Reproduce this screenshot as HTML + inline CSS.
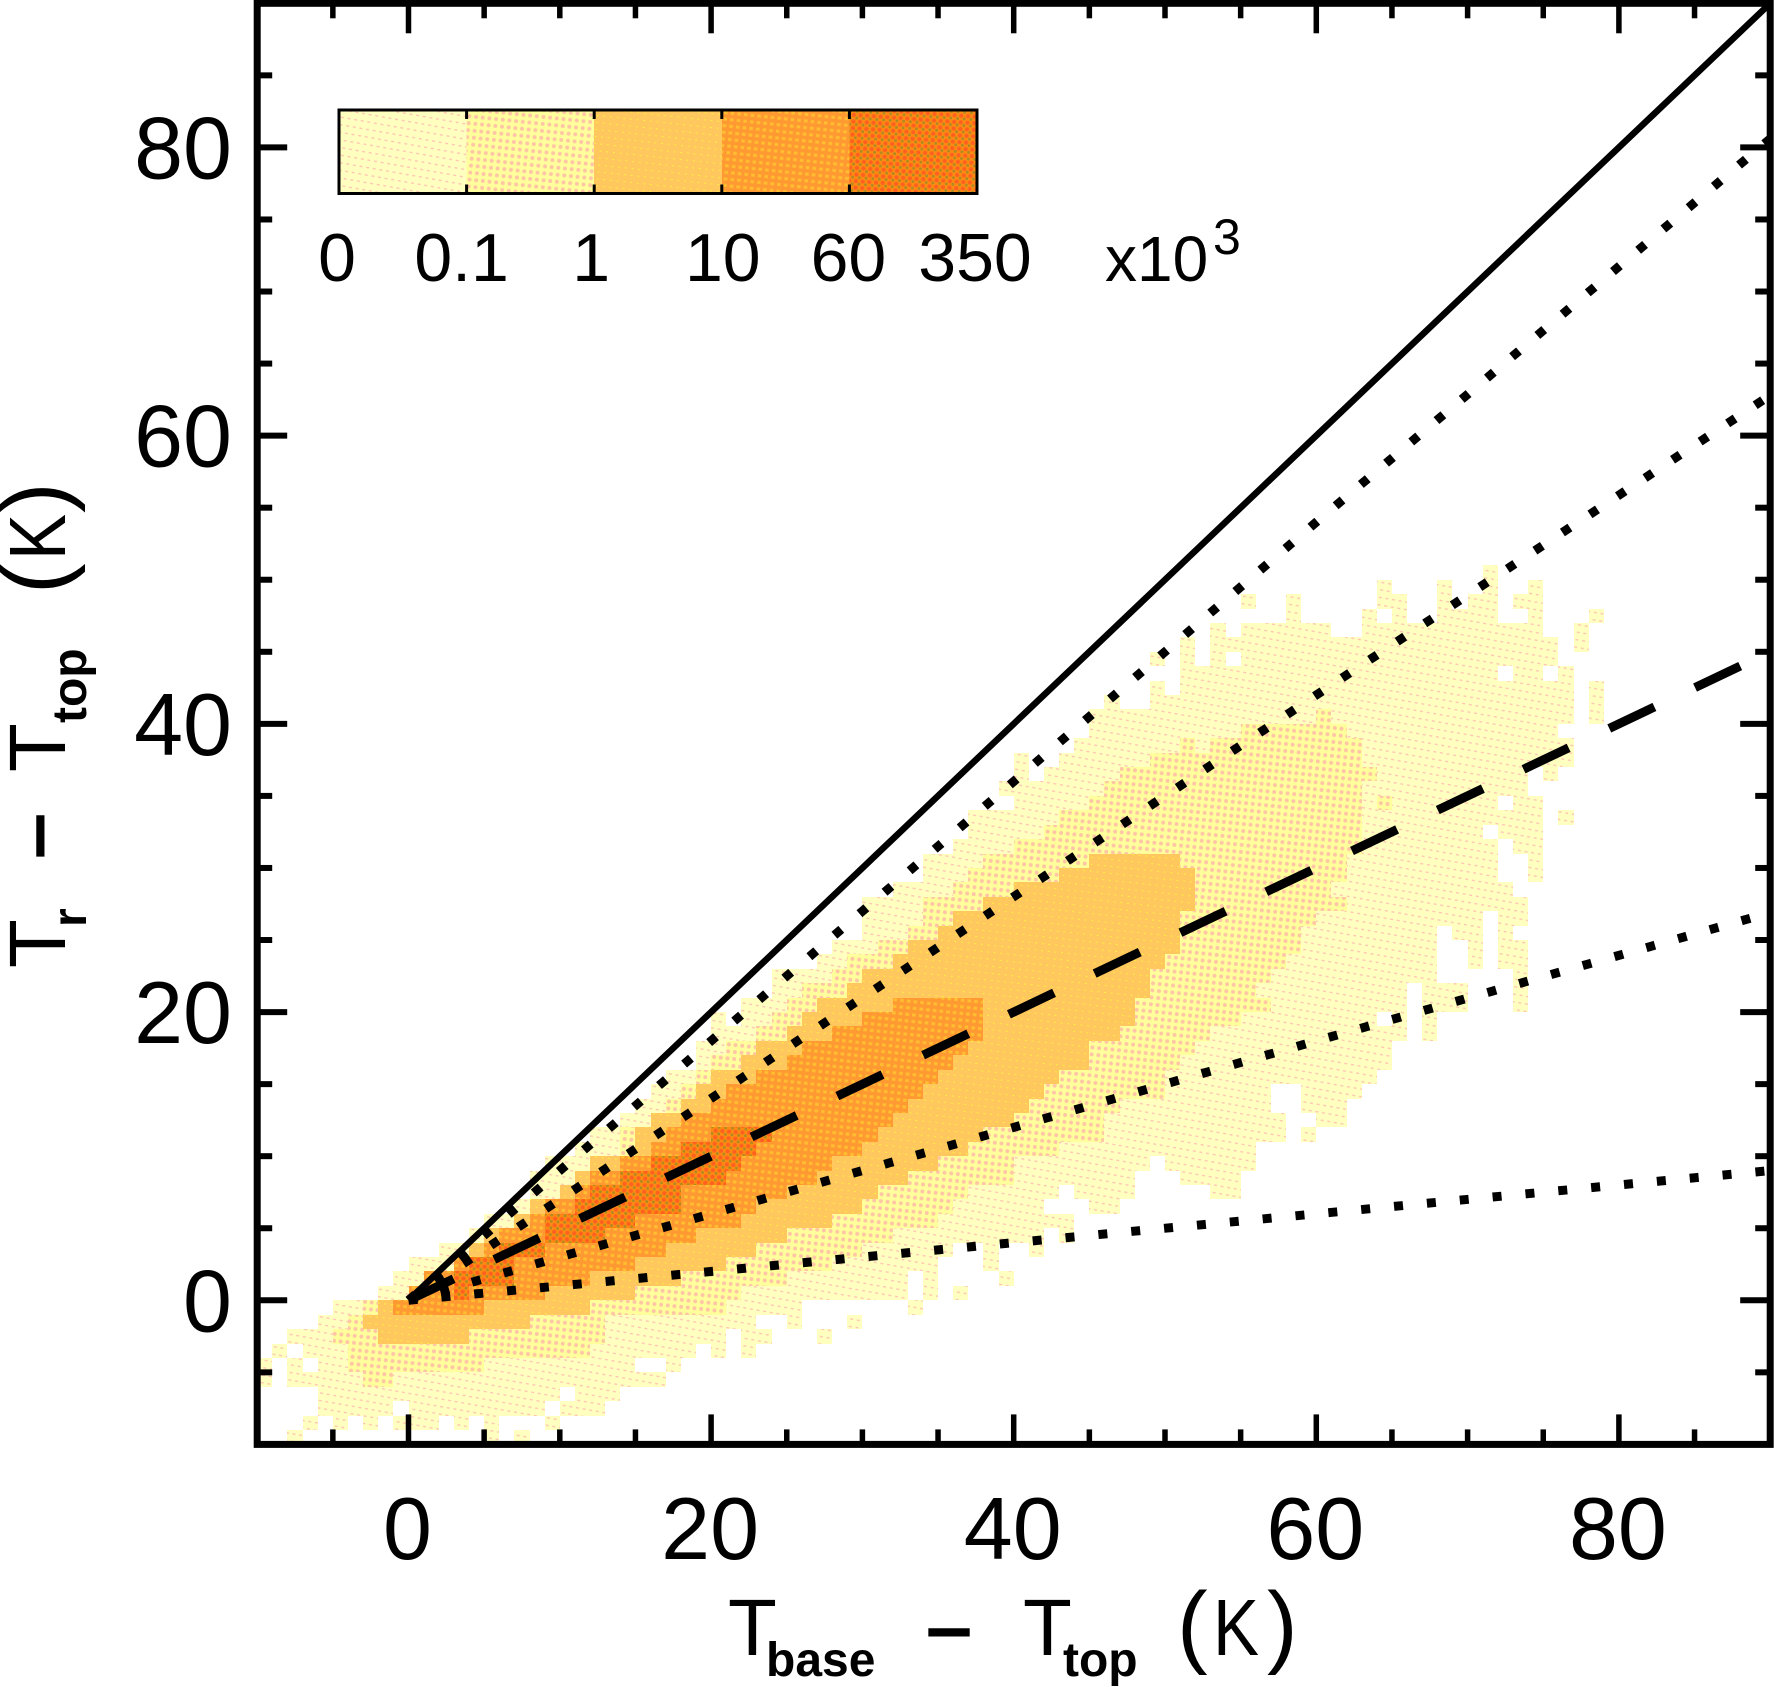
<!DOCTYPE html>
<html lang="en">
<head>
<meta charset="utf-8">
<title>Tr - Ttop versus Tbase - Ttop</title>
<style>
  html, body { margin: 0; padding: 0; background: #fff; }
  body { width: 1774px; height: 1687px; overflow: hidden; }
  svg { display: block; }
  text { font-family: "Liberation Sans", sans-serif; fill: #000; }
</style>
</head>
<body>
<svg id="chart" xmlns="http://www.w3.org/2000/svg" width="1774" height="1687" viewBox="0 0 1774 1687">
  <defs>
    <pattern id="lv1" patternUnits="userSpaceOnUse" width="6.7" height="7.5" patternTransform="rotate(10)">
      <rect width="6.7" height="7.5" fill="#FFFFC0"/>
      <rect x="1" y="3" width="3" height="1.4" fill="#FFC6B4"/>
    </pattern>
    <pattern id="lv2" patternUnits="userSpaceOnUse" width="6.7" height="7" patternTransform="rotate(6)">
      <rect width="6.7" height="7" fill="#FFFF9C"/>
      <circle cx="3.3" cy="3.5" r="2" fill="#FFC6A6"/>
    </pattern>
    <pattern id="lv3" patternUnits="userSpaceOnUse" width="6.7" height="7" patternTransform="rotate(6)">
      <rect width="6.7" height="7" fill="#FFC85E"/>
      <rect x="2.5" y="3" width="1.8" height="1" fill="#FFF040"/>
    </pattern>
    <pattern id="lv4" patternUnits="userSpaceOnUse" width="6.7" height="6.6" patternTransform="rotate(6)">
      <rect width="6.7" height="6.6" fill="#FF9A33"/>
      <rect x="1.5" y="1.6" width="3.6" height="3" fill="#FFBE30"/>
    </pattern>
    <pattern id="lv5" patternUnits="userSpaceOnUse" width="6.7" height="6.6" patternTransform="rotate(4)">
      <rect width="6.7" height="6.6" fill="#FF8A12"/>
      <circle cx="2.2" cy="2.2" r="2.1" fill="#FF6020"/>
      <circle cx="5.4" cy="5.2" r="1.5" fill="#B08A20"/>
    </pattern>
  </defs>

  <g id="heatmap"></g>
  <g id="guides"></g>
  <g id="axes"></g>

  <g id="colorbar"></g>

  <g>
    <text x="728" y="1655" font-size="80">T</text>
    <text x="766" y="1676" font-size="48" font-weight="bold">base</text>
    <text x="949" y="1659" font-size="80" text-anchor="middle" stroke="#000" stroke-width="2.5">−</text>
    <text x="1023" y="1655" font-size="80">T</text>
    <text x="1063" y="1676" font-size="48" font-weight="bold">top</text>
    <text x="1177" y="1656" font-size="92">(</text>
    <text x="1213" y="1655" font-size="80" textLength="46" lengthAdjust="spacingAndGlyphs">K</text>
    <text x="1267" y="1656" font-size="92">)</text>
  </g>

  <g>
    <text transform="translate(65,968) rotate(-90)" font-size="80">T</text>
    <text transform="translate(86,927) rotate(-90)" font-size="48" font-weight="bold">r</text>
    <text transform="translate(67,836) rotate(-90)" font-size="80" text-anchor="middle" stroke="#000" stroke-width="2.5">−</text>
    <text transform="translate(65,772) rotate(-90)" font-size="80">T</text>
    <text transform="translate(86,723) rotate(-90)" font-size="48" font-weight="bold">top</text>
    <text transform="translate(66,594) rotate(-90)" font-size="92">(</text>
    <text transform="translate(65,560) rotate(-90)" font-size="80" textLength="46" lengthAdjust="spacingAndGlyphs">K</text>
    <text transform="translate(66,513) rotate(-90)" font-size="92">)</text>
  </g>
</svg>

<script>
// Axis ranges
const xDomain = [-10, 90];
const yDomain = [-10, 90];

// Tick values
const xMajorTicks = [0, 20, 40, 60, 80];
const yMajorTicks = [0, 20, 40, 60, 80];
const xMinorTicks = [-5, 5, 10, 15, 25, 30, 35, 45, 50, 55, 65, 70, 75, 85];
const yMinorTicks = [-5, 5, 10, 15, 25, 30, 35, 45, 50, 55, 65, 70, 75, 85];
const xTickLabels = ["0", "20", "40", "60", "80"];
const yTickLabels = ["0", "20", "40", "60", "80"];

// Guide line samples (x in K, y in K)
const guideXs = [0, 30, 60, 90];
const identityYs = [0, 30, 60, 90];
const dotted90Ys = [0, 27, 54, 80.6];
const dotted70Ys = [0, 21, 42, 62.8];
const dashed50Ys = [0, 15, 30, 45];
const dotted30Ys = [0, 9, 18, 26.9];
const dotted10Ys = [0, 3, 6, 9];

// Colour bar
const colorbarLevels = ["lv1", "lv2", "lv3", "lv4", "lv5"];
const colorbarLabels = ["0", "0.1", "1", "10", "60", "350"];

// Density bins: [row y, first x, last x], each bin is 1 K wide and tall.
const level1Runs = [
[-10,-8,-8],[-10,5,5],[-10,7,7],
[-9,-7,-7],[-9,-5,-5],[-9,-3,-3],[-9,-1,1],[-9,3,3],[-9,5,5],[-9,9,9],
[-8,-6,-2],[-8,0,8],[-8,10,12],
[-7,-6,9],[-7,11,13],
[-6,-10,-10],[-6,-8,16],
[-5,-10,-10],[-5,-8,-8],[-5,-6,14],[-5,17,17],
[-4,-9,-9],[-4,-7,18],[-4,20,20],[-4,22,22],
[-3,-8,20],[-3,22,23],[-3,27,27],
[-2,-6,22],[-2,25,25],[-2,29,29],
[-1,-5,25],[-1,33,33],
[0,-2,32],[0,34,34],[0,36,36],
[1,-1,32],[1,34,34],[1,39,39],
[2,0,34],[2,38,38],
[3,2,35],[3,38,38],[3,41,41],
[4,4,41],[4,43,43],
[5,5,43],
[6,7,41],[6,45,46],
[7,8,42],[7,44,47],[7,53,54],
[8,8,47],[8,51,54],
[9,9,48],[9,50,55],
[10,11,55],
[11,12,57],[11,59,59],
[12,14,57],[12,60,61],
[13,15,56],[13,59,61],
[14,16,56],[14,59,62],
[15,17,63],
[16,19,64],
[17,19,64],
[18,20,65],[18,67,67],
[19,20,20],[19,22,63],[19,65,65],[19,67,67],
[20,22,65],[20,67,69],[20,73,73],
[21,24,65],[21,67,69],[21,73,73],
[22,24,67],[22,73,73],
[23,27,67],[23,70,70],[23,72,73],
[24,28,67],[24,70,70],[24,72,73],
[25,30,67],[25,69,70],[25,72,72],
[26,30,70],[26,72,73],
[27,30,73],
[28,32,72],
[29,34,71],[29,74,74],
[30,34,71],[30,74,74],
[31,36,71],[31,73,74],
[32,37,70],[32,72,74],
[33,37,74],[33,76,76],
[34,40,71],[34,73,74],
[35,39,73],
[36,40,40],[36,42,73],[36,75,75],
[37,40,40],[37,43,76],
[38,44,76],
[39,45,75],
[40,45,76],[40,78,78],
[41,46,46],[41,49,76],[41,78,78],
[42,49,49],[42,51,76],[42,78,78],
[43,51,71],[43,73,74],[43,76,76],
[44,49,49],[44,51,51],[44,53,53],[44,55,75],
[45,51,51],[45,53,75],[45,77,77],
[46,53,53],[46,55,60],[46,63,74],[46,77,77],
[47,58,58],[47,63,63],[47,65,65],[47,68,71],[47,74,74],[47,78,78],
[48,55,55],[48,58,58],[48,64,65],[48,68,68],[48,70,71],[48,73,74],
[49,64,64],[49,68,68],[49,71,71],[49,74,74],
[50,71,71]
];
const level2Runs = [
[-6,-3,-2],[-5,-4,4],[-4,-4,11],[-3,-5,12],[-2,-4,12],[-1,-3,20],[0,0,21],[1,1,24],
[2,3,27],[3,4,29],[4,5,31],[5,7,34],[6,8,35],[7,10,36],[8,11,39],[9,12,39],
[10,14,42],[11,14,45],[12,16,45],[13,17,46],[14,18,49],[15,19,49],[16,20,50],[17,21,51],
[18,23,52],[19,24,54],[20,25,56],[21,26,55],[22,28,56],[23,29,57],[24,31,58],[25,33,58],
[26,34,59],[27,34,61],[28,36,60],[29,37,61],[30,38,61],[31,40,62],[32,42,62],[33,43,62],
[34,45,62],[34,64,64],[35,46,62],[36,47,63],[37,49,62],[38,51,51],[38,53,62],[39,55,61],[40,60,60]
];
const level3Runs = [
[-3,-2,3],[-2,-3,7],[-1,-2,11],[0,0,14],[1,1,17],[2,3,20],[3,4,22],[4,5,24],
[5,7,27],[6,8,29],[7,10,30],[8,11,32],[9,12,34],[10,15,36],[11,15,37],[12,16,39],
[13,18,40],[14,19,41],[15,20,42],[16,22,44],[17,23,44],[18,25,46],[19,26,47],[20,27,47],
[21,29,48],[22,30,48],[23,32,49],[24,33,50],[25,35,50],[26,36,50],[27,38,51],[28,40,51],
[29,43,51],[30,45,50]
];
const level4Runs = [
[-1,-1,4],[0,0,8],[1,1,11],[2,3,14],[3,5,16],[4,6,18],[5,8,21],[6,9,22],
[7,11,24],[8,12,26],[9,14,27],[10,16,29],[11,17,30],[12,18,31],[13,20,32],[14,21,33],
[15,23,34],[16,25,35],[17,26,36],[18,28,37],[19,30,37],[20,32,37]
];
const level5Runs = [
[0,3,3],[1,3,6],[2,4,6],[3,6,8],[4,9,12],[5,9,14],[6,11,17],[7,12,17],
[8,14,20],[9,16,21],[10,18,22],[11,20,23]
];

const NS = "http://www.w3.org/2000/svg";
const plotLeft = 257.2, plotRight = 1770.2, plotTop = 3.3, plotBottom = 1444.4;

function xPx(v) {
  return plotLeft + (v - xDomain[0]) * (plotRight - plotLeft) / (xDomain[1] - xDomain[0]);
}
function yPx(v) {
  return plotBottom - (v - yDomain[0]) * (plotBottom - plotTop) / (yDomain[1] - yDomain[0]);
}
function svgEl(tag, attrs, parent) {
  const el = document.createElementNS(NS, tag);
  for (const k in attrs) el.setAttribute(k, attrs[k]);
  parent.appendChild(el);
  return el;
}

// ---------- heatmap ----------
const heatGroup = document.getElementById("heatmap");
const grid = new Map();
const levelRuns = [level1Runs, level2Runs, level3Runs, level4Runs, level5Runs];
levelRuns.forEach(function (runs, idx) {
  runs.forEach(function (run) {
    for (let x = run[1]; x <= run[2]; x++) grid.set(run[0] + "," + x, idx + 1);
  });
});
grid.forEach(function (level, key) {
  const parts = key.split(",");
  const row = Number(parts[0]);
  const col = Number(parts[1]);
  const x0 = Math.round(xPx(col)), x1 = Math.round(xPx(col + 1));
  const y0 = Math.round(yPx(row + 1)), y1 = Math.round(yPx(row));
  const cell = svgEl("rect", { x: x0, y: y0, width: x1 - x0, height: y1 - y0, fill: "url(#lv" + level + ")", "shape-rendering": "crispEdges" }, heatGroup);
  
  
});

// ---------- guide lines ----------
const guideGroup = document.getElementById("guides");
function linePath(ys) {
  return guideXs.map(function (x, i) {
    return (i ? "L" : "M") + xPx(x).toFixed(2) + " " + yPx(ys[i]).toFixed(2);
  }).join(" ");
}
const identityLine = svgEl("path", { d: linePath(identityYs), fill: "none", stroke: "#000", "stroke-width": 6.5 }, guideGroup);


const dotted90 = svgEl("path", { d: linePath(dotted90Ys), fill: "none", stroke: "#000", "stroke-width": 9, "stroke-dasharray": "9 24" }, guideGroup);


const dotted70 = svgEl("path", { d: linePath(dotted70Ys), fill: "none", stroke: "#000", "stroke-width": 9, "stroke-dasharray": "9 24" }, guideGroup);


const dashed50 = svgEl("path", { d: linePath(dashed50Ys), fill: "none", stroke: "#000", "stroke-width": 9, "stroke-dasharray": "50 45" }, guideGroup);


const dotted30 = svgEl("path", { d: linePath(dotted30Ys), fill: "none", stroke: "#000", "stroke-width": 9, "stroke-dasharray": "9 24" }, guideGroup);


const dotted10 = svgEl("path", { d: linePath(dotted10Ys), fill: "none", stroke: "#000", "stroke-width": 9, "stroke-dasharray": "9 24" }, guideGroup);



// ---------- axes ----------
const axesGroup = document.getElementById("axes");
const frame = svgEl("rect", { x: plotLeft, y: plotTop, width: plotRight - plotLeft, height: plotBottom - plotTop, fill: "none", stroke: "#000", "stroke-width": 7 }, axesGroup);



function drawXTick(v, len) {
  const px = xPx(v);
  const bottomTick = svgEl("line", { x1: px, x2: px, y1: plotBottom, y2: plotBottom - len, stroke: "#000", "stroke-width": 5.5 }, axesGroup);
  
  
  const topTick = svgEl("line", { x1: px, x2: px, y1: plotTop, y2: plotTop + len, stroke: "#000", "stroke-width": 5.5 }, axesGroup);
  
  
}
function drawYTick(v, len) {
  const py = yPx(v);
  const leftTick = svgEl("line", { x1: plotLeft, x2: plotLeft + len, y1: py, y2: py, stroke: "#000", "stroke-width": 6 }, axesGroup);
  
  
  const rightTick = svgEl("line", { x1: plotRight, x2: plotRight - len, y1: py, y2: py, stroke: "#000", "stroke-width": 6 }, axesGroup);
  
  
}
xMinorTicks.forEach(function (v) { drawXTick(v, 15); });
yMinorTicks.forEach(function (v) { drawYTick(v, 15); });
xMajorTicks.forEach(function (v, i) {
  drawXTick(v, 30);
  const label = svgEl("text", { x: xPx(v) - 1, y: 1559, "font-size": 88, "text-anchor": "middle" }, axesGroup);
  label.textContent = xTickLabels[i];
  
  
});
yMajorTicks.forEach(function (v, i) {
  drawYTick(v, 30);
  const label = svgEl("text", { x: 232, y: yPx(v) + 31, "font-size": 88, "text-anchor": "end" }, axesGroup);
  label.textContent = yTickLabels[i];
  
  
});

// ---------- colour bar ----------
const barGroup = document.getElementById("colorbar");
const barLeft = 339, barStep = 127.6, barTop = 110, barBottom = 193.5;
colorbarLevels.forEach(function (id, i) {
  const seg = svgEl("rect", { x: barLeft + i * barStep, y: barTop, width: barStep, height: barBottom - barTop, fill: "url(#" + id + ")", "shape-rendering": "crispEdges" }, barGroup);
  
  
});
for (let i = 1; i < colorbarLevels.length; i++) {
  const px = barLeft + i * barStep;
  const topMark = svgEl("line", { x1: px, x2: px, y1: barTop, y2: barTop + 9, stroke: "#000", "stroke-width": 3 }, barGroup);
  
  
  const bottomMark = svgEl("line", { x1: px, x2: px, y1: barBottom, y2: barBottom - 9, stroke: "#000", "stroke-width": 3 }, barGroup);
  
  
}
const barBorder = svgEl("rect", { x: barLeft, y: barTop, width: barStep * colorbarLevels.length, height: barBottom - barTop, fill: "none", stroke: "#000", "stroke-width": 3 }, barGroup);



const colorbarLabelOffsets = [-2, -5, -3, 1, -1, -2];
colorbarLabels.forEach(function (txt, i) {
  const label = svgEl("text", { x: barLeft + i * barStep + colorbarLabelOffsets[i], y: 281, "font-size": 68, "text-anchor": "middle" }, barGroup);
  label.textContent = txt;
  
  
});
const scaleX = svgEl("text", { x: 1105, y: 281, "font-size": 64 }, barGroup);
scaleX.textContent = "x10";


const scaleExp = svgEl("text", { x: 1213, y: 254, "font-size": 50 }, barGroup);
scaleExp.textContent = "3";


</script>
</body>
</html>
